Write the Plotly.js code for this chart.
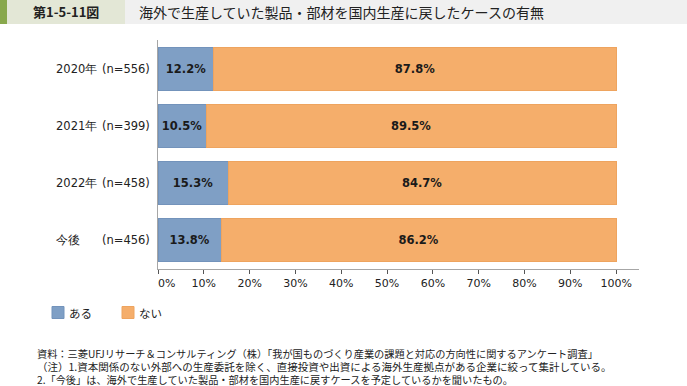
<!DOCTYPE html>
<html>
<head>
<meta charset="utf-8">
<script src="https://cdn.plot.ly/plotly-3.0.1.min.js"></script>
<style>html,body{margin:0;padding:0;background:#fff;}#chart{width:687px;height:386px;}</style>
</head>
<body>
<div id="chart"></div>
<script>
// ---- data ----
const years = ["2020年", "2021年", "2022年", "今後"];
const sampleSizes = ["(n=556)", "(n=399)", "(n=458)", "(n=456)"];
const seriesNames = ["ある", "ない"];
const aruValues = [12.2, 10.5, 15.3, 13.8];
const naiValues = [87.8, 89.5, 84.7, 86.2];
const tickValues = [0, 10, 20, 30, 40, 50, 60, 70, 80, 90, 100];
const tickLabels = ["\u00a0\u00a0\u00a0\u00a0\u00a00%", "10%", "20%", "30%", "40%", "50%", "60%", "70%", "80%", "90%", "100%"];
const figureNumber = "第1-5-11図";
const titleText = "海外で生産していた製品・部材を国内生産に戻したケースの有無";
const notes = [
  "資料：三菱UFJリサーチ＆コンサルティング（株）「我が国ものづくり産業の課題と対応の方向性に関するアンケート調査」",
  "（注）1.資本関係のない外部への生産委託を除く、直接投資や出資による海外生産拠点がある企業に絞って集計している。",
  "2.「今後」は、海外で生産していた製品・部材を国内生産に戻すケースを予定しているかを聞いたもの。"
];
const colors = ["#7f9fc5", "#f5ae6b"];
const lineColors = ["#7393bb", "#eea45f"];

// ---- layout helpers ----
const W = 687, H = 386;
const M = {l: 158, r: 48, t: 40, b: 117};
const PW = W - M.l - M.r, PH = H - M.t - M.b;
const xp = px => (px - M.l) / PW;
const yp = py => (H - M.b - py) / PH;

const cats = years.map((y, i) => y + "|" + sampleSizes[i]);
const num = "DejaVu Sans, Verdana, sans-serif";
const jp = "Noto Sans CJK JP, sans-serif";

const traces = [aruValues, naiValues].map((vals, k) => ({
  type: "bar",
  orientation: "h",
  name: seriesNames[k],
  y: cats,
  x: vals,
  marker: {color: colors[k], line: {color: lineColors[k], width: 1}},
  texttemplate: "%{x:.1f}%",
  textposition: "inside",
  insidetextanchor: "middle",
  constraintext: "none",
  textangle: 0,
  textfont: {family: num, size: 11.5, color: "#1a1a1a", weight: "bold"},
  hoverinfo: "skip"
}));

const annotations = [];
cats.forEach((c, i) => {
  annotations.push({xref: "paper", yref: "y", x: xp(54), y: c, xanchor: "left", yanchor: "middle",
    text: years[i], showarrow: false, font: {family: num, size: 11.5, color: "#222"}});
  annotations.push({xref: "paper", yref: "y", x: xp(152), y: c, xanchor: "right", yanchor: "middle",
    text: sampleSizes[i], showarrow: false, font: {family: num, size: 11.5, color: "#222"}});
});
// header
annotations.push({xref: "paper", yref: "paper", x: xp(66), y: yp(12), xanchor: "center", yanchor: "middle",
  text: "<b>" + figureNumber + "</b>", showarrow: false, font: {family: jp, size: 13, color: "#222"}});
annotations.push({xref: "paper", yref: "paper", x: xp(137), y: yp(12), xanchor: "left", yanchor: "middle",
  text: titleText, showarrow: false, font: {family: jp, size: 14, color: "#222"}});
// legend
const legX = [52, 122];
seriesNames.forEach((n, k) => {
  annotations.push({xref: "paper", yref: "paper", x: xp(legX[k] + 15), y: yp(312.5), xanchor: "left", yanchor: "middle",
    text: n, showarrow: false, font: {family: jp, size: 11.5, color: "#222"}});
});
// notes (one block, three lines)
const noteSizes = [10.2, 10.5, 10.2];
annotations.push({xref: "paper", yref: "paper", x: xp(36), y: yp(366), xanchor: "left", yanchor: "middle",
  align: "left", borderpad: 0, showarrow: false, font: {family: jp, size: 10.1, color: "#222"},
  text: notes.map((t, i) => '<span style="font-size:' + noteSizes[i] + 'px">' + t + '</span>').join("<br>")});

const shapes = [
  {type: "rect", xref: "paper", yref: "paper", x0: xp(0), x1: xp(W), y0: yp(24), y1: yp(0), fillcolor: "#f0f0f0", line: {width: 0}, layer: "below"},
  {type: "rect", xref: "paper", yref: "paper", x0: xp(7), x1: xp(125), y0: yp(24), y1: yp(0), fillcolor: "#e3e7d6", line: {width: 0}, layer: "below"},
  {type: "rect", xref: "paper", yref: "paper", x0: xp(0), x1: xp(7), y0: yp(24), y1: yp(0), fillcolor: "#88a84c", line: {width: 0}, layer: "below"}
];
legX.forEach((lx, k) => {
  shapes.push({type: "rect", xref: "paper", yref: "paper", x0: xp(lx), x1: xp(lx + 12), y0: yp(318.5), y1: yp(306.5),
    fillcolor: colors[k], line: {color: lineColors[k], width: 1}});
});

const layout = {
  width: W, height: H,
  margin: M,
  paper_bgcolor: "#fff", plot_bgcolor: "#fff",
  barmode: "stack",
  bargap: 0.25,
  showlegend: false,
  font: {family: num, size: 11, color: "#222"},
  xaxis: {
    range: [0, 105], tickvals: tickValues, ticktext: tickLabels,
    showgrid: false, zeroline: false, showline: true, linecolor: "#a6a6a6", linewidth: 1,
    ticks: "outside", ticklen: 4, tickcolor: "#555", tickwidth: 1,
    tickfont: {family: num, size: 11, color: "#222"}, fixedrange: true
  },
  yaxis: {
    type: "category", autorange: "reversed", showticklabels: false,
    showgrid: false, zeroline: false, showline: true, linecolor: "#a6a6a6", linewidth: 1, ticks: "", fixedrange: true
  },
  annotations: annotations,
  shapes: shapes
};

Plotly.newPlot("chart", traces, layout, {displayModeBar: false, staticPlot: true});
</script>
</body>
</html>
